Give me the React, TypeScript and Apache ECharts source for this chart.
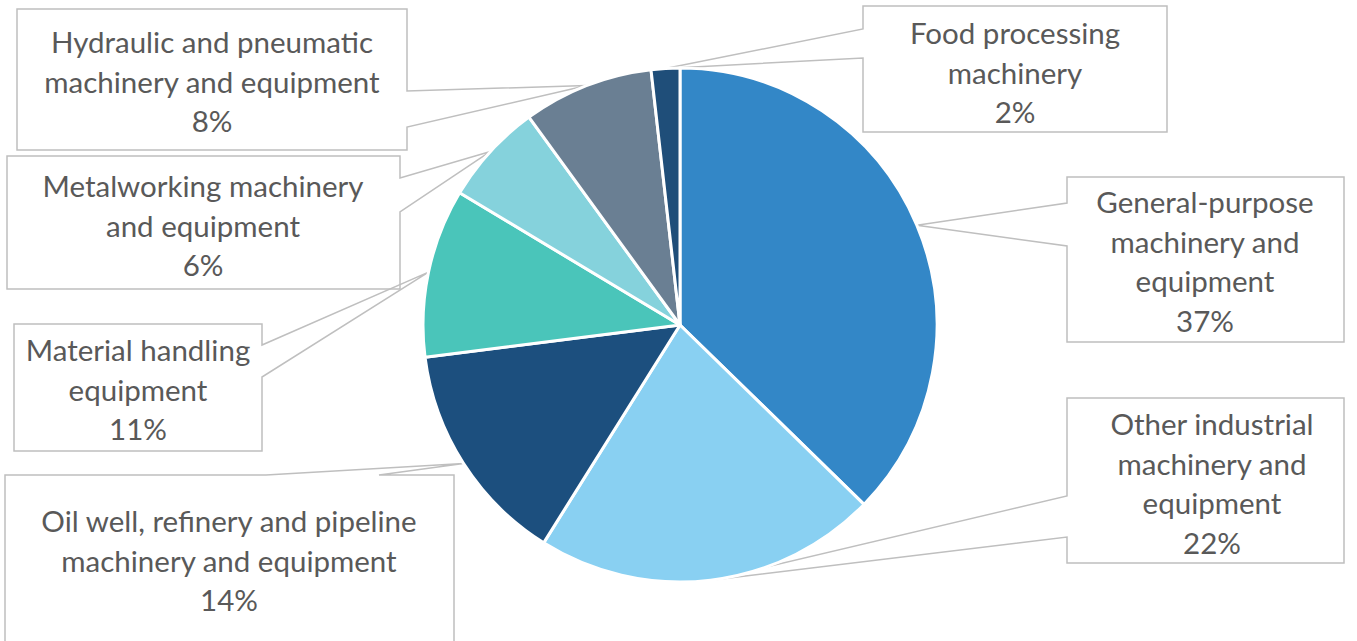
import React, { useEffect, useRef } from "react";
import * as echarts from "echarts";

// ---- data ----
const categories = [
  "General-purpose machinery and equipment",
  "Other industrial machinery and equipment",
  "Oil well, refinery and pipeline machinery and equipment",
  "Material handling equipment",
  "Metalworking machinery and equipment",
  "Hydraulic and pneumatic machinery and equipment",
  "Food processing machinery",
];
const wrappedNames = [
  "General-purpose\nmachinery and\nequipment",
  "Other industrial\nmachinery and\nequipment",
  "Oil well, refinery and pipeline\nmachinery and equipment",
  "Material handling\nequipment",
  "Metalworking machinery\nand equipment",
  "Hydraulic and pneumatic\nmachinery and equipment",
  "Food processing\nmachinery",
];
const shares = [37.3, 21.6, 14.1, 10.6, 6.4, 8.2, 1.8];
const colors = ["#3387C7", "#89D0F2", "#1C4F7E", "#4AC5BA", "#85D2DC", "#6A7F93", "#1F4E79"];

// ---- layout (callout boxes) ----
const CX = 680;
const CY = 325;
const R = 257;
type Box = { L: number; T: number; R: number; B: number; side: string; w1: number; w2: number; tx: number; ty: number };
const boxes: Box[] = [
  { L: 1067, T: 177, R: 1344, B: 342, side: "left", w1: 203, w2: 246, tx: 1205, ty: 261 },
  { L: 1067, T: 398, R: 1344, B: 563, side: "left", w1: 496, w2: 537, tx: 1212, ty: 483 },
  { L: 5, T: 475, R: 454, B: 646, side: "top", w1: 266, w2: 379, tx: 229, ty: 560 },
  { L: 14, T: 324, R: 262, B: 451, side: "right", w1: 345, w2: 377, tx: 138, ty: 389 },
  { L: 7, T: 156, R: 400, B: 289, side: "right", w1: 178, w2: 212, tx: 203, ty: 225 },
  { L: 17, T: 9, R: 407, B: 150, side: "right", w1: 91, w2: 127, tx: 212, ty: 81 },
  { L: 863, T: 6, R: 1167, B: 132, side: "left", w1: 29, w2: 58, tx: 1015, ty: 72 },
];

function anchors(): number[][] {
  const total = shares.reduce((a, b) => a + b, 0);
  let cum = 0;
  return shares.map((s) => {
    const mid = (cum + s / 2) / total;
    cum += s;
    const th = mid * Math.PI * 2;
    return [CX + R * Math.sin(th), CY - R * Math.cos(th)];
  });
}

function calloutPoints(b: Box, a: number[]): number[][] {
  if (b.side === "left") {
    return [[b.L, b.T], [b.R, b.T], [b.R, b.B], [b.L, b.B], [b.L, b.w2], a, [b.L, b.w1]];
  }
  if (b.side === "right") {
    return [[b.L, b.T], [b.R, b.T], [b.R, b.w1], a, [b.R, b.w2], [b.R, b.B], [b.L, b.B]];
  }
  return [[b.L, b.T], [b.w1, b.T], a, [b.w2, b.T], [b.R, b.T], [b.R, b.B], [b.L, b.B]];
}

export default function App() {
  const ref = useRef<HTMLDivElement>(null);
  useEffect(() => {
    if (!ref.current) return;
    const chart = echarts.init(ref.current, null, { renderer: "svg" });
    const anc = anchors();
    const elements = boxes.map((b, i) => ({
      type: "polygon",
      silent: true,
      z: 1,
      shape: { points: calloutPoints(b, anc[i]) },
      style: { fill: "none", stroke: "#BFBFBF", lineWidth: 1.5 },
    }));
    chart.setOption({
      animation: false,
      backgroundColor: "#FFFFFF",
      graphic: { elements },
      series: [
        {
          type: "pie",
          center: [CX, CY],
          radius: R,
          startAngle: 90,
          clockwise: true,
          data: categories.map((c, i) => ({
            name: c,
            value: shares[i],
            itemStyle: { color: colors[i] },
          })),
          itemStyle: { borderColor: "#FFFFFF", borderWidth: 3 },
          label: {
            show: true,
            position: "outside",
            formatter: (p: any) => `${wrappedNames[p.dataIndex]}\n${Math.round(p.percent)}%`,
            fontFamily: "Lato",
            fontSize: 29.5,
            lineHeight: 39.5,
            color: "#595959",
            align: "center",
          },
          labelLine: { show: false },
          labelLayout: (params: any) => {
            const b = boxes[params.dataIndex];
            return { x: b.tx, y: b.ty, align: "center", verticalAlign: "middle" };
          },
          emphasis: { disabled: true },
        },
      ],
    });
    return () => chart.dispose();
  }, []);
  return (
    <div
      ref={ref}
      style={{ position: "absolute", left: 0, top: 0, width: 1357, height: 641 }}
    />
  );
}
